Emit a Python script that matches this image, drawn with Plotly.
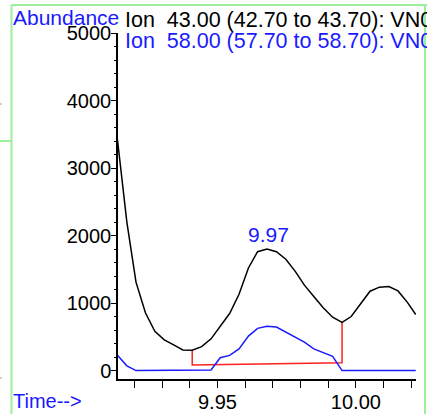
import plotly.graph_objects as go

# scan times (min) and ion abundances
scan_times = [9.9139, 9.9173, 9.9206, 9.9240, 9.9274, 9.9308, 9.9342, 9.9375,
              9.9409, 9.9443, 9.9477, 9.9510, 9.9544, 9.9578, 9.9612, 9.9645,
              9.9679, 9.9713, 9.9747, 9.9781, 9.9814, 9.9848, 9.9882, 9.9916,
              9.9950, 9.9983, 10.0017, 10.0051, 10.0085, 10.0119, 10.0152,
              10.0186, 10.0216]
ion_43 = [3420, 2200, 1310, 855, 582, 455, 380, 305,
          300, 355, 470, 660, 845, 1130, 1520, 1760,
          1800, 1760, 1650, 1470, 1265, 1098, 930, 790,
          715, 800, 985, 1175, 1235, 1245, 1180,
          1010, 830]
ion_58 = [225, 70, 0, 0, 0, 0, 0, 0,
          0, 0, 10, 190, 225, 320, 510, 625,
          655, 645, 570, 495, 420, 320, 260, 210,
          0, 0, 0, 0, 0, 0, 0,
          0, 0]

# integration baseline for the 9.97 peak
base_t = [9.9409, 9.9409, 9.9950, 9.9950]
base_y = [300, 84, 114, 715]

peak_label = "9.97"
peak_t = 9.9686
peak_y = 1800

ion_43_label = "Ion\u00a0\u00a043.00 (42.70 to 43.70): VN0"
ion_58_label = "Ion\u00a0\u00a058.00 (57.70 to 58.70): VN0"

W, H = 427, 414
L, R, T, B = 118, 11, 33, 35
PW, PH = W - L - R, H - T - B


def px(x):  # screen pixel -> paper x
    return (x - L) / PW


def py(y):  # screen pixel -> paper y
    return (H - B - y) / PH


FONT = "Liberation Sans, Arial, sans-serif"
BLUE = "#1a1aff"

fig = go.Figure()
fig.add_trace(go.Scatter(x=base_t, y=base_y, mode="lines",
                         line=dict(color="#ff2020", width=1.5), hoverinfo="skip"))
fig.add_trace(go.Scatter(x=scan_times, y=ion_58, mode="lines",
                         line=dict(color=BLUE, width=1.5)))
fig.add_trace(go.Scatter(x=scan_times, y=ion_43, mode="lines",
                         line=dict(color="black", width=1.5)))

fig.add_annotation(x=peak_t, y=peak_y, text=peak_label, showarrow=False,
                   yanchor="bottom", yshift=1,
                   font=dict(family=FONT, size=21, color=BLUE))

annots = [
    ("Abundance", px(11), py(17), BLUE, 21),
    (ion_43_label, px(123), py(20), "black", 21.5),
    (ion_58_label, px(123), py(41), BLUE, 21.5),
    ("Time-->", px(11), py(401), BLUE, 20),
]
for txt, ax, ay, col, size in annots:
    fig.add_annotation(x=ax, y=ay, xref="paper", yref="paper", text=txt,
                       showarrow=False, xanchor="left", yanchor="middle",
                       font=dict(family=FONT, size=size, color=col))

# green window frame
green = "#9cf09c"
for x0, y0, x1, y1 in [(11.5, 5, 11.5, 414), (11.5, 5, 427, 5),
                       (425, 5, 425, 414), (0, 141, 11.5, 141)]:
    fig.add_shape(type="line", xref="paper", yref="paper",
                  x0=px(x0), y0=py(y0), x1=px(x1), y1=py(y1),
                  line=dict(color=green, width=2))
for yy in [104, 378]:
    fig.add_shape(type="line", xref="paper", yref="paper",
                  x0=px(0), y0=py(yy), x1=px(1.5), y1=py(yy),
                  line=dict(color="#888888", width=1))

fig.update_layout(
    width=W, height=H,
    margin=dict(l=L, r=R, t=T, b=B, pad=0),
    paper_bgcolor="white", plot_bgcolor="white",
    showlegend=False,
    font=dict(family=FONT, size=20, color="black"),
    xaxis=dict(range=[9.9141, 10.0217], showgrid=False, zeroline=False,
               automargin=False, ticklabelstandoff=-3,
               showline=True, linecolor="black", linewidth=1.5,
               ticks="outside", ticklen=7, tickcolor="black",
               tick0=9.95, dtick=0.05, tickformat=".2f",
               minor=dict(dtick=0.01, ticks="outside", ticklen=7, tickcolor="black")),
    yaxis=dict(range=[-125, 5000], showgrid=False, zeroline=False,
               automargin=False, ticklabelstandoff=-4,
               showline=True, linecolor="black", linewidth=1.5,
               ticks="outside", ticklen=5, tickcolor="black",
               tick0=0, dtick=1000,
               minor=dict(dtick=200, ticks="outside", ticklen=2, tickcolor="black")),
)

# drop the default page margin / scrollbars so the figure fills the window exactly
page_fix = ("document.documentElement.style.overflow='hidden';"
            "document.body.style.margin='0';"
            "document.body.style.overflow='hidden';")
fig.write_html("out.html", config={"displayModeBar": False}, post_script=page_fix)
